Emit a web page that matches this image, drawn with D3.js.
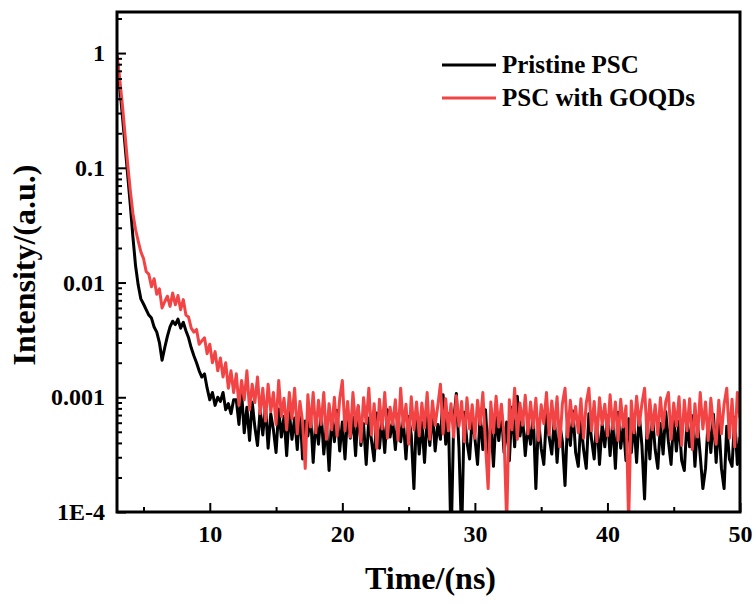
<!DOCTYPE html>
<html>
<head>
<meta charset="utf-8">
<script src="https://cdn.jsdelivr.net/npm/d3@7"></script>
<style>
  body { margin: 0; background: #fff; }
  svg text { font-family: "Liberation Serif", "Times New Roman", serif; font-weight: bold; fill: #000; }
</style>
</head>
<body>
<svg id="chart" width="755" height="604"></svg>
<script>
// time bins (ns): first bin and bin width
const tStart = 3;
const tStep = 0.2;

// Pristine PSC, normalised intensity, one value per bin (3.0 ... 50.0 ns)
const pristine = [
  0.95, 0.52, 0.29, 0.16, 0.088, 0.048, 0.025, 0.014, 0.0095, 0.0072,
  0.0065, 0.0058, 0.0052, 0.0049, 0.0041, 0.0037, 0.0030, 0.0021, 0.0027, 0.0034,
  0.0041, 0.0046, 0.0043, 0.0048, 0.0040, 0.0045, 0.0038, 0.0033, 0.0027, 0.0023,
  0.0020, 0.0017, 0.0015, 0.0016, 0.0012, 0.00095, 0.0011, 0.00085, 0.0010, 0.00092,
  0.0011, 0.00078, 0.00088, 0.00072, 0.00095,
  0.00095, 0.00058, 0.0011, 0.00049, 0.00082, 0.00042, 0.00091, 0.00055, 0.00038, 0.00078,
  0.00047, 0.00085, 0.00036, 0.00072, 0.00052, 0.00033, 0.00079, 0.00045, 0.00068, 0.00031,
  0.00074, 0.00043, 0.00066, 0.00035, 0.00081, 0.00029, 0.00062, 0.00046, 0.00071, 0.00027,
  0.00064, 0.00039, 0.00075, 0.00032, 0.00058, 0.00023, 0.00069, 0.00041, 0.00077, 0.00034,
  0.00061, 0.00029, 0.00072, 0.00044, 0.00067, 0.00031, 0.00083, 0.00038, 0.00059, 0.00026,
  0.00066, 0.00042, 0.00028, 0.00073, 0.00036, 0.00064, 0.00033, 0.00078, 0.00045, 0.00062,
  0.00035, 0.00071, 0.00041, 0.00063, 0.00029, 0.00068, 0.00047, 0.00016, 0.00074, 0.00032,
  0.00061, 0.00027, 0.00069, 0.00038, 0.00076, 0.00034, 0.00058, 0.00043, 0.00105, 0.00039,
  0.00072, 0.00005, 0.00062, 0.00108, 0.00036, 0.00006, 0.00074, 0.00041, 0.00029, 0.00067,
  0.00044, 0.00026, 0.00071, 0.00035, 0.00078, 0.00031, 0.00063, 0.00025, 0.00069, 0.00042,
  0.00075, 0.00033, 0.00061, 0.00028, 0.00082, 0.00037, 0.00102, 0.00046, 0.00066, 0.00031,
  0.00058, 0.00039, 0.00073, 0.00016, 0.00064, 0.00036, 0.00026, 0.00071, 0.00045, 0.00032,
  0.00067, 0.00027, 0.00059, 0.00041, 0.00017, 0.00068, 0.00038, 0.00076, 0.00033, 0.00025,
  0.00063, 0.00035, 0.00024, 0.00072, 0.00043, 0.00029, 0.00066, 0.00026, 0.00058, 0.00037,
  0.00069, 0.00031, 0.00062, 0.00024, 0.00074, 0.00036, 0.00057, 0.00028, 0.00065, 0.00033,
  0.00061, 0.00027, 0.00071, 0.00038, 0.00013, 0.00064, 0.00029, 0.00068, 0.00035, 0.00024,
  0.00059, 0.00032, 0.00075, 0.00041, 0.00026, 0.00066, 0.00034, 0.00062, 0.00028, 0.00023,
  0.00063, 0.00037, 0.00069, 0.00025, 0.00058, 0.00031, 0.00016, 0.00024, 0.00064, 0.00033,
  0.00071, 0.00027, 0.00061, 0.00024, 0.00016, 0.00056, 0.00029, 0.00025, 0.00067, 0.00026,
  0.00045
];

// PSC with GOQDs, same bins
const goqds = [
  0.96, 0.60, 0.36, 0.20, 0.11, 0.064, 0.040, 0.029, 0.023, 0.0185,
  0.0162, 0.0125, 0.0118, 0.0092, 0.0108, 0.0079, 0.0088, 0.0060, 0.0068, 0.0076,
  0.0062, 0.0081, 0.0064, 0.0077, 0.0058, 0.0071, 0.0052, 0.0050, 0.0040, 0.0037,
  0.0039, 0.0029, 0.0031, 0.0033, 0.0024, 0.0029, 0.0020, 0.0025, 0.0017, 0.0022,
  0.0015, 0.0020, 0.0012, 0.0017, 0.0011,
  0.0016, 0.00085, 0.0014, 0.00095, 0.0017, 0.00078, 0.0013, 0.0009, 0.0015, 0.00072,
  0.0012, 0.00062, 0.0013, 0.00075, 0.0011, 0.00058, 0.0014, 0.00068, 0.00098, 0.00052,
  0.0011, 0.00065, 0.0012, 0.00048, 0.00092, 0.00061, 0.00024, 0.00105, 0.00055, 0.0011,
  0.00049, 0.00094, 0.00058, 0.0011, 0.00043, 0.00088, 0.00052, 0.0010, 0.00046, 0.00097,
  0.0014, 0.00051, 0.00092, 0.00045, 0.0011, 0.00056, 0.00085, 0.00041, 0.00099, 0.00059,
  0.0012, 0.00047, 0.00088, 0.00036, 0.00096, 0.00053, 0.0011, 0.00044, 0.00082, 0.00058,
  0.00095, 0.00042, 0.0012, 0.00055, 0.00087, 0.00039, 0.00101, 0.00052, 0.00091, 0.00046,
  0.00089, 0.00054, 0.0011, 0.00043, 0.00093, 0.00057, 0.00084, 0.0013, 0.00048, 0.00097,
  0.00051, 0.00088, 0.00045, 0.00103, 0.00056, 0.00092, 0.00041, 0.00099, 0.00053, 0.00086,
  0.00044, 0.00094, 0.00058, 0.0011, 0.00039, 0.00016, 0.00091, 0.00049, 0.00102, 0.00055,
  0.00087, 0.00046, 0.00008, 0.00095, 0.00052, 0.0012, 0.00043, 0.00089, 0.00057, 0.00104,
  0.00048, 0.00091, 0.00054, 0.00098, 0.00042, 0.00086, 0.00059, 0.0011, 0.00047, 0.00093,
  0.00053, 0.00101, 0.00037, 0.00088, 0.0012, 0.00045, 0.00094, 0.00056, 0.00083, 0.00049,
  0.00097, 0.00044, 0.00089, 0.0012, 0.00051, 0.00092, 0.00041, 0.00099, 0.00058, 0.00087,
  0.00046, 0.00105, 0.00053, 0.00091, 0.00042, 0.00096, 0.00055, 0.00084, 0.00008, 0.00093,
  0.00049, 0.00102, 0.00057, 0.00088, 0.0012, 0.00044, 0.00095, 0.00052, 0.00086, 0.00047,
  0.00099, 0.00054, 0.00092, 0.0011, 0.00043, 0.00089, 0.00056, 0.00101, 0.00038, 0.00094,
  0.00051, 0.00097, 0.00035, 0.00088, 0.00045, 0.0011, 0.00053, 0.00091, 0.00042, 0.00098,
  0.00056, 0.00039, 0.00094, 0.00048, 0.00087, 0.0012, 0.00044, 0.00096, 0.00037, 0.0011,
  0.00066
];

const seriesNames = ['Pristine PSC', 'PSC with GOQDs'];
const seriesColors = ['#000000', '#f24444'];
const xTicks = [10, 20, 30, 40, 50];
const xMinorTicks = [5, 15, 25, 35, 45];
const yTicks = [1, 0.1, 0.01, 0.001, 1e-4];
const yTickLabels = ['1', '0.1', '0.01', '0.001', '1E-4'];

const svg = d3.select('#chart');
const plot = { left: 117, right: 740, top: 12, bottom: 512 };

const x = d3.scaleLinear().domain([3, 50]).range([plot.left, plot.right]);
const y = d3.scaleLog().domain([1e-4, 2.28]).range([plot.bottom, plot.top]);

// minor log ticks 2..9 in every decade
const yMinorTicks = [];
for (let e = -4; e <= 0; e++) {
  for (let k = 2; k <= 9; k++) {
    const v = k * Math.pow(10, e);
    if (v < 2.28) yMinorTicks.push(v);
  }
}

svg.append('clipPath').attr('id', 'clip')
  .append('rect')
  .attr('x', plot.left).attr('y', plot.top)
  .attr('width', plot.right - plot.left).attr('height', plot.bottom - plot.top);

const line = d3.line()
  .x((d, i) => x(tStart + i * tStep))
  .y(d => y(d));

[pristine, goqds].forEach((values, k) => {
  svg.append('path')
    .datum(values)
    .attr('clip-path', 'url(#clip)')
    .attr('fill', 'none')
    .attr('stroke', seriesColors[k])
    .attr('stroke-width', 3)
    .attr('stroke-linejoin', 'round')
    .attr('d', line);
});

// axes, ticks pointing inward
svg.append('g')
  .attr('transform', `translate(0,${plot.bottom})`)
  .call(d3.axisBottom(x).tickValues(xTicks).tickSizeInner(-9).tickSizeOuter(0)
    .tickPadding(13).tickFormat(d3.format('d')));
svg.append('g')
  .attr('transform', `translate(0,${plot.bottom})`)
  .call(d3.axisBottom(x).tickValues(xMinorTicks).tickSizeInner(-5).tickSizeOuter(0).tickFormat(''));

svg.append('g')
  .attr('transform', `translate(${plot.left},0)`)
  .call(d3.axisLeft(y).tickValues(yTicks).tickSizeInner(-9).tickSizeOuter(0)
    .tickPadding(12).tickFormat((d, i) => yTickLabels[i]));
svg.append('g')
  .attr('transform', `translate(${plot.left},0)`)
  .call(d3.axisLeft(y).tickValues(yMinorTicks).tickSizeInner(-5).tickSizeOuter(0).tickFormat(''));

svg.selectAll('.domain').remove();
svg.selectAll('.tick line').attr('stroke', '#000').attr('stroke-width', 2);
svg.selectAll('.tick text')
  .style('font-family', '"Liberation Serif", serif')
  .style('font-weight', 'bold')
  .style('font-size', '24px')
  .attr('fill', '#000');

// frame
svg.append('rect')
  .attr('x', plot.left).attr('y', plot.top)
  .attr('width', plot.right - plot.left).attr('height', plot.bottom - plot.top)
  .attr('fill', 'none').attr('stroke', '#000').attr('stroke-width', 3);

// axis titles
svg.append('text')
  .attr('x', (plot.left + plot.right) / 2 + 2)
  .attr('y', 589)
  .attr('text-anchor', 'middle')
  .style('font-size', '32px')
  .text('Time/(ns)');

svg.append('text')
  .attr('transform', 'rotate(-90)')
  .attr('x', -265)
  .attr('y', 35)
  .attr('text-anchor', 'middle')
  .style('font-size', '32px')
  .text('Intensity/(a.u.)');

// legend
const legend = svg.append('g');
seriesNames.forEach((name, k) => {
  const ly = 65 + k * 33;
  legend.append('line')
    .attr('x1', 442).attr('x2', 496)
    .attr('y1', ly).attr('y2', ly)
    .attr('stroke', seriesColors[k]).attr('stroke-width', 3);
  legend.append('text')
    .attr('x', 502).attr('y', ly + 8)
    .style('font-size', '25px')
    .text(name);
});
</script>
</body>
</html>
